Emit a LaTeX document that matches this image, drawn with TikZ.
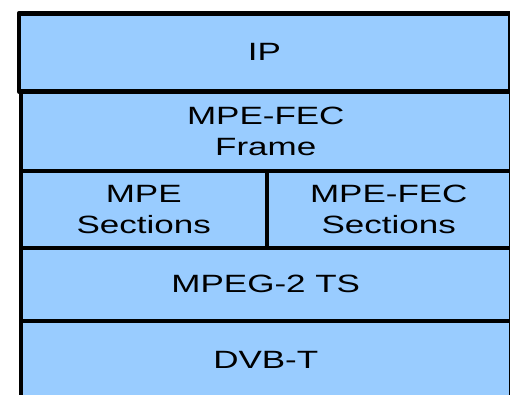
\documentclass[tikz,border=0pt]{standalone}
\usepackage{fontspec}
\newfontfamily\lab{Liberation Sans}[FakeStretch=1.4]
\definecolor{layerblue}{HTML}{99CCFF}
\begin{document}
\begin{tikzpicture}[x=1pt,y=-1pt,
  layer/.style={draw=black, fill=layerblue, line width=4.5pt, inner sep=0pt,
    anchor=north west, align=center, line join=round,
    font=\lab\fontsize{25}{31}\selectfont}]
\useasboundingbox (0,0) rectangle (510,394);
% protocol stack, top to bottom
\node[layer, minimum width=491.5pt, minimum height=78pt] (ip) at (16.5,11) {IP};
\node[layer, minimum width=490pt, minimum height=79.5pt] (frame) at (18.5,89) {MPE-FEC\\Frame};
\node[layer, minimum width=246pt, minimum height=77pt] (mpe) at (18.5,168.5) {MPE\\Sections};
\node[layer, minimum width=244pt, minimum height=77pt] (fecsec) at (264.5,168.5) {MPE-FEC\\Sections};
\node[layer, minimum width=490pt, minimum height=73pt] (ts) at (18.5,245.5) {\raisebox{-2.5pt}{MPEG-2 TS}};
\node[layer, minimum width=490pt, minimum height=77.5pt] (dvb) at (18.5,318.5) {DVB-T};
\end{tikzpicture}
\end{document}
